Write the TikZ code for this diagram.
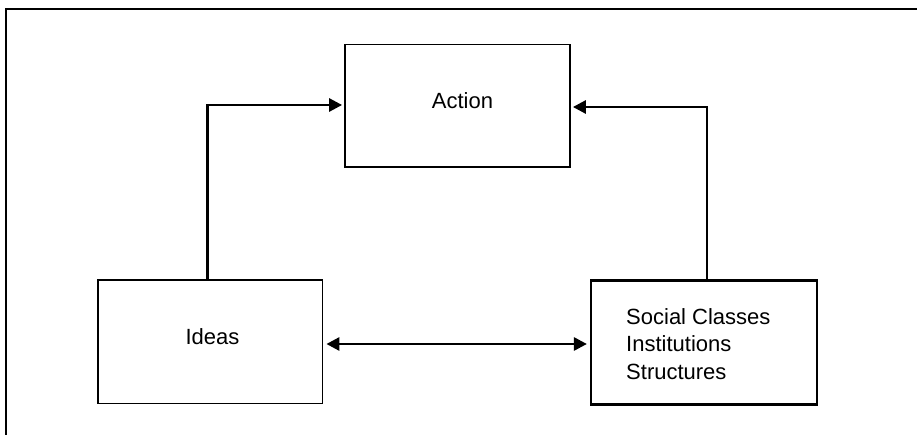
\documentclass[tikz,border=0pt]{standalone}
\usepackage{fontspec}
\setmainfont{Liberation Sans}
\usetikzlibrary{arrows.meta}
\begin{document}
\begin{tikzpicture}[x=1pt,y=1pt,
  box/.style={draw=black, line width=1.8pt, minimum width=#1, inner sep=0pt},
  lbl/.style={inner sep=0pt, font=\fontsize{22}{27.5}\selectfont},
  conn/.style={line width=2.8pt, -{Triangle[length=13pt,width=13pt]}, shorten >=2pt},
  dconn/.style={line width=2.8pt, {Triangle[length=13pt,width=13pt]}-{Triangle[length=13pt,width=13pt]}, shorten >=3pt, shorten <=3pt}
]
\useasboundingbox (0,0) rectangle (917,-435);
% outer frame (cropped: only top and left edges are visible)
\draw[line width=1.8pt] (6,-435) -- (6,-9) -- (917,-9);
% boxes
\node[box=225pt, minimum height=122.5pt] (action) at (457.5,-105.75) {};
\node[box=224.5pt, minimum height=123.5pt] (ideas) at (210.25,-341.75) {};
\node[box=226pt, minimum height=124pt, line width=2.2pt] (social) at (704,-342.5) {};
% texts
\node[lbl] (actiontxt) at (462.5,-100.5) {Action};
\node[lbl] (ideastxt) at (212.5,-336.5) {Ideas};
\node[lbl, anchor=west, align=left] (socialtxt) at (626,-343.7) {Social Classes\\Institutions\\Structures};
% connectors
\draw[conn] ([xshift=-2.5pt]ideas.north) |- ([yshift=0.75pt]action.west);
\draw[conn] ([xshift=3pt]social.north) |- ([yshift=-1.25pt]action.east);
\draw[dconn] ([yshift=-2.25pt]ideas.east) -- ([yshift=-2.25pt]ideas.east -| social.west);
\end{tikzpicture}
\end{document}
